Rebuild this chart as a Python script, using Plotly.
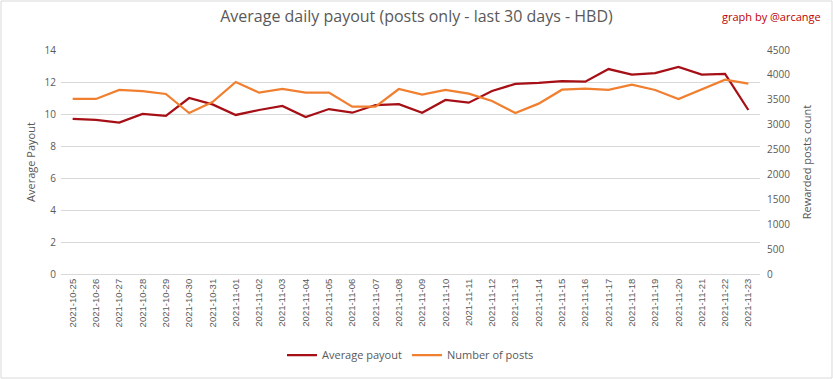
import plotly.graph_objects as go

dates = ["2021-10-25","2021-10-26","2021-10-27","2021-10-28","2021-10-29","2021-10-30","2021-10-31",
         "2021-11-01","2021-11-02","2021-11-03","2021-11-04","2021-11-05","2021-11-06","2021-11-07",
         "2021-11-08","2021-11-09","2021-11-10","2021-11-11","2021-11-12","2021-11-13","2021-11-14",
         "2021-11-15","2021-11-16","2021-11-17","2021-11-18","2021-11-19","2021-11-20","2021-11-21",
         "2021-11-22","2021-11-23"]
avg_payout = [9.69, 9.63, 9.46, 10.0, 9.88, 11.0, 10.6, 9.94, 10.25, 10.5, 9.81, 10.31, 10.08, 10.56,
              10.62, 10.08, 10.88, 10.71, 11.44, 11.88, 11.94, 12.06, 12.02, 12.81, 12.46, 12.56,
              12.94, 12.46, 12.5, 10.25]
num_posts = [3516, 3516, 3697, 3676, 3616, 3234, 3455, 3857, 3643, 3717, 3643, 3643, 3362, 3362,
             3717, 3603, 3697, 3622, 3475, 3234, 3422, 3703, 3723, 3697, 3803, 3697, 3516, 3703,
             3904, 3823]
left_ticks = [0, 2, 4, 6, 8, 10, 12, 14]
right_ticks = [0, 500, 1000, 1500, 2000, 2500, 3000, 3500, 4000, 4500]

FONT = "Open Sans, Liberation Sans, Arial"
GREY = "#595959"

fig = go.Figure()
fig.add_trace(go.Scatter(x=dates, y=avg_payout, name="Average payout", mode="lines",
                         line=dict(color="#a50f15", width=2.25)))
fig.add_trace(go.Scatter(x=dates, y=num_posts, name="Number of posts", mode="lines",
                         line=dict(color="#f07f30", width=2.25), yaxis="y2"))

W, H = 833, 379
ml, mr, mt, mb = 61, 73, 50, 105
pw, ph = W - ml - mr, H - mt - mb

fig.update_layout(
    width=W, height=H,
    margin=dict(l=ml, r=mr, t=mt, b=mb, autoexpand=False),
    paper_bgcolor="white", plot_bgcolor="white",
    font=dict(family=FONT, color=GREY, size=10),
    title=dict(text="Average daily payout (posts only - last 30 days - HBD)",
               x=0.5, xanchor="center", y=1 - 16/H, yanchor="middle",
               font=dict(size=16, color=GREY, family=FONT)),
    xaxis=dict(type="category", range=[-0.5, 29.5], tickangle=-90, showgrid=False, automargin=False,
               showline=True, linecolor="#d9d9d9", ticks="", ticklen=0,
               tickfont=dict(size=9.5, color=GREY, family="Liberation Sans Narrow, Liberation Sans")),
    yaxis=dict(range=[0, 14], tickvals=left_ticks, showgrid=True, gridcolor="#d9d9d9", automargin=False,
               zeroline=False, title=dict(text="Average Payout", font=dict(size=11, color=GREY), standoff=6),
               ticks="", ticklabelstandoff=4, tickfont=dict(size=10, color=GREY)),
    yaxis2=dict(range=[0, 4500], tickvals=right_ticks, overlaying="y", side="right", automargin=False,
                showgrid=False, zeroline=False,
                title=dict(text="Rewarded posts count", font=dict(size=11, color=GREY), standoff=14),
                ticks="", ticklabelstandoff=6, tickfont=dict(size=10, color=GREY)),
    legend=dict(orientation="h", x=0.5, xanchor="center", y=-(355 - 274)/ph, yanchor="middle",
                font=dict(size=11, color=GREY), traceorder="normal"),
    showlegend=True,
)

fig.add_annotation(text="graph by @arcange", xref="paper", yref="paper",
                   x=(W - 10 - ml)/pw, y=1 + (mt - 16)/ph, xanchor="right", yanchor="middle",
                   showarrow=False, font=dict(size=11, color="#c00000", family=FONT))

fig.add_shape(type="rect", xref="paper", yref="paper",
              x0=-(ml - 1)/pw, x1=1 + (mr - 1)/pw, y0=-(mb - 1)/ph, y1=1 + (mt - 1)/ph,
              line=dict(color="#d9d9d9", width=1), fillcolor="rgba(0,0,0,0)", layer="below")

fig.write_html("out.html", config={"displayModeBar": False},
               post_script="document.body.style.margin='0';document.body.style.overflow='hidden';")
